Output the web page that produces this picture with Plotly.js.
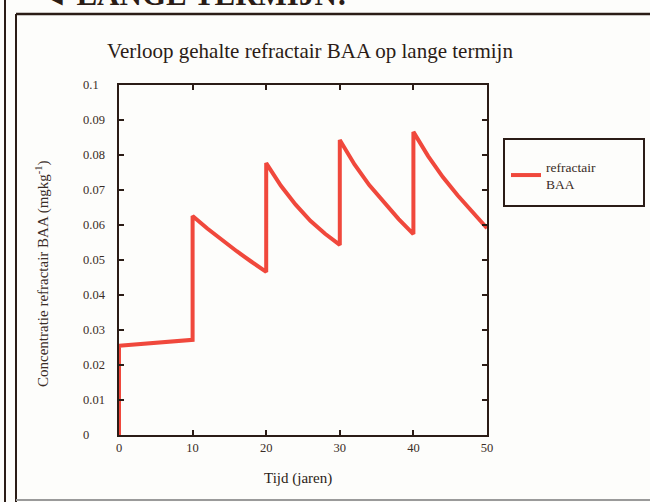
<!DOCTYPE html>
<html>
<head>
<meta charset="utf-8">
<script src="https://cdn.plot.ly/plotly-3.0.1.min.js"></script>
<style>
html,body{margin:0;padding:0;background:#fdfdfb;}
#chart{width:650px;height:502px;}
</style>
</head>
<body>
<div id="chart"></div>
<script>
// Data (time in years, concentration in mg/kg)
const years = [0, 0, 10, 10, 12, 14, 16, 18, 20, 20, 22, 24, 26, 28, 30, 30, 32, 34, 36, 38, 40, 40, 42, 44, 46, 48, 50];
const concentration = [0, 0.0255, 0.0272, 0.0626, 0.0590, 0.0557, 0.0525, 0.0495, 0.0466, 0.0777, 0.0712, 0.0658, 0.0612, 0.0575, 0.0543, 0.0843, 0.0773, 0.0714, 0.0664, 0.0617, 0.0574, 0.0866, 0.0797, 0.0737, 0.0685, 0.0636, 0.0591];
const seriesName = "refractair<br>BAA";
const xTicks = [0, 10, 20, 30, 40, 50];
const yTicks = [0, 0.01, 0.02, 0.03, 0.04, 0.05, 0.06, 0.07, 0.08, 0.09, 0.1];
const yTickLabels = ["0", "0.01", "0.02", "0.03", "0.04", "0.05", "0.06", "0.07", "0.08", "0.09", "0.1"];
const chartTitle = "Verloop gehalte refractair BAA op lange termijn";
const xTitle = "Tijd (jaren)";
const yTitle = "Concentratie refractair BAA (mgkg<sup>-1</sup>)";
const heading = "◄ LANGE TERMIJN!";

const W = 650, H = 502;
const M = {l: 119, r: 163, t: 85, b: 67};
const PW = W - M.l - M.r, PH = H - M.t - M.b;
const px = v => (v - M.l) / PW;
const py = v => (H - M.b - v) / PH;

const dark = "#2b1c16";
const textCol = "#3a2c26";
const serif = "Liberation Serif, Times New Roman, serif";

const annotations = yTicks.map((t, i) => ({
  xref: "paper", yref: "y", x: px(81), y: t, text: yTickLabels[i],
  xanchor: "left", yanchor: "middle", showarrow: false,
  font: {family: serif, size: 12.5, color: textCol}
}));
annotations.push({
  xref: "paper", yref: "paper", x: px(42), y: py(274), text: yTitle,
  textangle: -90, showarrow: false, xanchor: "center", yanchor: "middle",
  font: {family: serif, size: 15, color: textCol}
});
annotations.push({
  xref: "paper", yref: "paper", x: px(298), y: py(478), text: xTitle,
  showarrow: false, xanchor: "center", yanchor: "middle",
  font: {family: serif, size: 15, color: dark}
});
annotations.push({
  xref: "paper", yref: "paper", x: px(36), y: py(14), text: heading,
  showarrow: false, xanchor: "left", yanchor: "bottom",
  font: {family: serif, size: 31, color: "#2b1c16", weight: 700}
});

const shapes = [
  {type: "line", xref: "paper", yref: "paper", x0: px(5), x1: px(5), y0: py(-2), y1: py(504), line: {color: dark, width: 2}},
  {type: "line", xref: "paper", yref: "paper", x0: px(16), x1: px(16), y0: py(14), y1: py(504), line: {color: dark, width: 2}},
  {type: "line", xref: "paper", yref: "paper", x0: px(16), x1: px(652), y0: py(14), y1: py(14), line: {color: dark, width: 2.5}},
  {type: "line", xref: "paper", yref: "paper", x0: px(16), x1: px(652), y0: py(500), y1: py(500), line: {color: "#9a9a9a", width: 2}},
  {type: "rect", xref: "paper", yref: "paper", x0: px(504), x1: px(644), y0: py(139), y1: py(206), line: {color: dark, width: 2}}
];

const trace = {
  x: years, y: concentration, type: "scatter", mode: "lines",
  name: seriesName, line: {color: "#f0483c", width: 4}
};

const axisCommon = {
  showgrid: false, zeroline: false, showline: true, linecolor: dark, linewidth: 2,
  mirror: "ticks", ticks: "inside", ticklen: 5, tickwidth: 2, tickcolor: dark
};

const layout = {
  width: W, height: H,
  margin: M,
  paper_bgcolor: "#fdfdfb", plot_bgcolor: "#fdfdfb",
  title: {text: chartTitle, xref: "container", yref: "container", x: 310 / W, xanchor: "center",
          y: 1 - 51 / H, yanchor: "middle",
          font: {family: serif, size: 21, color: "#2b1c16"}},
  xaxis: Object.assign({}, axisCommon, {
    range: [0, 50], tickvals: xTicks, ticktext: xTicks.map(String),
    tickfont: {family: serif, size: 12.5, color: textCol}
  }),
  yaxis: Object.assign({}, axisCommon, {
    range: [0, 0.1], tickvals: yTicks, showticklabels: false
  }),
  showlegend: true,
  legend: {x: px(506), y: py(151), xanchor: "left", yanchor: "top",
           bgcolor: "rgba(0,0,0,0)", borderwidth: 0, tracegroupgap: 0,
           font: {family: serif, size: 13.5, color: textCol}},
  annotations: annotations,
  shapes: shapes
};

Plotly.newPlot("chart", [trace], layout, {displayModeBar: false, staticPlot: true});
</script>
</body>
</html>
